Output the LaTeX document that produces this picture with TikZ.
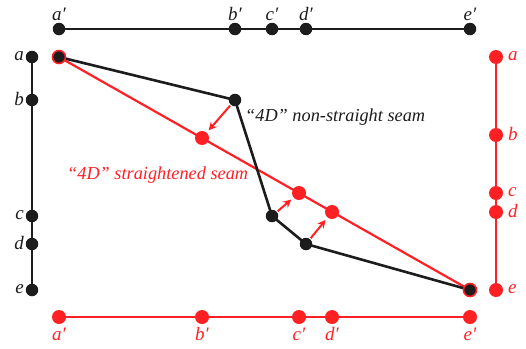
\documentclass[tikz,border=0pt]{standalone}
\usepackage{fontspec}
\setmainfont{Liberation Serif}
\usetikzlibrary{arrows.meta}
\definecolor{sred}{RGB}{255,32,36}
\definecolor{sblack}{RGB}{28,28,28}
\tikzset{
  bdot/.style={circle,fill=sblack,inner sep=0pt,minimum size=12.5pt},
  rdot/.style={circle,fill=sred,inner sep=0pt,minimum size=14pt},
  edot/.style={circle,fill=sblack,draw=sred,line width=1.6pt,inner sep=0pt,minimum size=13pt},
  bline/.style={draw=sblack,line width=2.6pt},
  rline/.style={draw=sred,line width=2.2pt},
  lab/.style={font=\fontsize{19}{22}\selectfont\itshape,inner sep=1pt},
  txt/.style={font=\fontsize{18.3}{21}\selectfont\itshape,inner sep=1pt},
  arr/.style={draw=sred,line width=2pt,-{Stealth[length=8pt,width=8pt]},shorten >=3pt,shorten <=1pt}
}
\begin{document}
\begin{tikzpicture}[x=1pt,y=-1pt]
\useasboundingbox (0,0) rectangle (526,348);
% top black line
\node[bdot] (ta) at (59,29) {};
\node[bdot] (tb) at (235,29) {};
\node[bdot] (tc) at (272,29) {};
\node[bdot] (td) at (306,29) {};
\node[bdot] (te) at (470,29) {};
\path[bline] (ta) -- (tb) -- (tc) -- (td) -- (te);
\node[lab,text=sblack] (lta) at (59,14) {a′};
\node[lab,text=sblack] (ltb) at (235,14) {b′};
\node[lab,text=sblack] (ltc) at (272,14) {c′};
\node[lab,text=sblack] (ltd) at (306,14) {d′};
\node[lab,text=sblack] (lte) at (470,14) {e′};
% left black vertical
\node[bdot] (la) at (32,57) {};
\node[bdot] (lb) at (32,100) {};
\node[bdot] (lc) at (32,216) {};
\node[bdot] (ld) at (32,244) {};
\node[bdot] (le) at (32,290) {};
\path[bline] (la) -- (lb) -- (lc) -- (ld) -- (le);
\node[lab,text=sblack,anchor=east] (lla) at (25,56) {a};
\node[lab,text=sblack,anchor=east] (llb) at (25,99) {b};
\node[lab,text=sblack,anchor=east] (llc) at (25,215) {c};
\node[lab,text=sblack,anchor=east] (lld) at (25,243) {d};
\node[lab,text=sblack,anchor=east] (lle) at (25,289) {e};
% right red vertical
\node[rdot] (ra) at (496,57) {};
\node[rdot] (rb) at (496,135) {};
\node[rdot] (rc) at (496,193) {};
\node[rdot] (rd) at (496,212) {};
\node[rdot] (re) at (496,290) {};
\path[rline,line width=1.7pt] (ra) -- (rb) -- (rc) -- (rd) -- (re);
\node[lab,text=sred,anchor=west] (rla) at (507,56) {a};
\node[lab,text=sred,anchor=west] (rlb) at (507,134) {b};
\node[lab,text=sred,anchor=west] (rlc) at (507,192) {c};
\node[lab,text=sred,anchor=west] (rld) at (507,211) {d};
\node[lab,text=sred,anchor=west] (rle) at (507,289) {e};
% bottom red line
\node[rdot] (ba) at (59,317) {};
\node[rdot] (bb) at (202,317) {};
\node[rdot] (bc) at (299,317) {};
\node[rdot] (bd) at (332,317) {};
\node[rdot] (be) at (470,317) {};
\path[rline,line width=1.7pt] (ba) -- (bb) -- (bc) -- (bd) -- (be);
\node[lab,text=sred] (lba) at (59,334) {a′};
\node[lab,text=sred] (lbb) at (202,334) {b′};
\node[lab,text=sred] (lbc) at (299,334) {c′};
\node[lab,text=sred] (lbd) at (332,334) {d′};
\node[lab,text=sred] (lbe) at (470,334) {e′};
% seams
\coordinate (s1) at (59,57);
\coordinate (s2) at (235,100);
\coordinate (s3) at (272,216);
\coordinate (s4) at (306,244);
\coordinate (s5) at (470,290);
\path[rline] (s1) -- (s5);
\path[bline] (s1) -- (s2) -- (s3) -- (s4) -- (s5);
\node[rdot] (p2) at (202,138) {};
\node[rdot] (p3) at (299,193) {};
\node[rdot] (p4) at (332,212) {};
\node[bdot] (q2) at (s2) {};
\node[bdot] (q3) at (s3) {};
\node[bdot] (q4) at (s4) {};
\node[edot] (q1) at (s1) {};
\node[edot] (q5) at (s5) {};
\draw[arr] (q2) -- (p2);
\draw[arr] (q3) -- (p3);
\draw[arr] (q4) -- (p4);
% texts
\node[txt,text=sblack,anchor=west] (t1) at (244,117) {“4D” non-straight seam};
\node[txt,text=sred,anchor=west] (t2) at (66,175) {“4D” straightened seam};
\end{tikzpicture}
\end{document}
